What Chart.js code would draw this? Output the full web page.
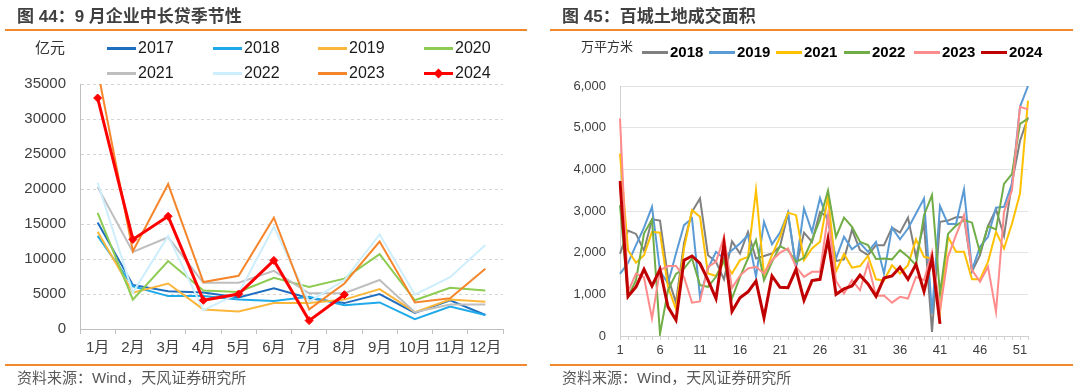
<!DOCTYPE html>
<html><head><meta charset="utf-8">
<script src="https://cdn.jsdelivr.net/npm/chart.js@4.4.1/dist/chart.umd.min.js"></script>
<style>
body{margin:0;width:1080px;height:392px;background:#fff;position:relative;overflow:hidden;font-family:"Liberation Sans","Noto Sans CJK SC",sans-serif;}
canvas{position:absolute;top:0;}
.t{position:absolute;white-space:nowrap;line-height:1;}
.title{font-size:17px;font-weight:bold;color:#404040;}
.rule{position:absolute;height:2px;background:#f0892d;}
.src{font-size:15px;color:#595959;}
.ln{position:absolute;height:3px;}
.dm{position:absolute;width:7px;height:7px;background:#ff0000;transform:rotate(45deg);}
</style></head>
<body>
<canvas id="c1" width="540" height="392" style="left:0"></canvas>
<canvas id="c2" width="540" height="392" style="left:540px"></canvas>
<div id="ov"></div>
<script>
// ---------- Chart 44 data (亿元) ----------
const monthLabels = ['1月','2月','3月','4月','5月','6月','7月','8月','9月','10月','11月','12月'];
const loanYears = ['2017','2018','2019','2020','2021','2022','2023','2024'];
const loans2017 = [15200, 6300, 5400, 5200, 4500, 5800, 4400, 3700, 5000, 2300, 4100, 2000];
const loans2018 = [13300, 6100, 4700, 4700, 4200, 4000, 4600, 3400, 3800, 1400, 3200, 2000];
const loans2019 = [13900, 5200, 6500, 2800, 2500, 3700, 3700, 4200, 5700, 2400, 4200, 3900];
const loans2020 = [16600, 4200, 9700, 5500, 5300, 7300, 6000, 7200, 10700, 4100, 5900, 5500];
const loans2021 = [20300, 11000, 13100, 6600, 6600, 8300, 5100, 5100, 7000, 2400, 3500, 3500];
const loans2022 = [20900, 5200, 13300, 2700, 5100, 14600, 3900, 7000, 13500, 4900, 7400, 12000];
const loans2023 = [37000, 11100, 20700, 6700, 7600, 15900, 2800, 6500, 12500, 3800, 4400, 8600];
const loans2024 = [33000, 12800, 16100, 4100, 5000, 9800, 1200, 4900];
const loanTicks = [0, 5000, 10000, 15000, 20000, 25000, 30000, 35000];

// ---------- Chart 45 data (万平方米) ----------
const weekLabels = ['1','2','3','4','5','6','7','8','9','10','11','12','13','14','15','16','17','18','19','20','21','22','23','24','25','26','27','28','29','30','31','32','33','34','35','36','37','38','39','40','41','42','43','44','45','46','47','48','49','50','51','52'];
const landYears = ['2018','2019','2021','2022','2023','2024'];
const land2018 = [1970, 2530, 2450, 2050, 2800, 2770, 1400, 800, 2230, 2980, 3300, 1940, 1780, 1360, 2270, 1980, 2500, 1860, 1920, 1980, 2150, 2940, 1660, 2480, 2260, 2980, 2840, 1800, 1840, 2550, 2060, 1940, 2180, 2180, 2600, 2480, 2840, 1900, 2700, 100, 2740, 2770, 2850, 2850, 1550, 1940, 2640, 3040, 2400, 3680, 4680, 5250];
const land2019 = [1490, 1750, 2180, 2600, 3100, 1560, 1260, 1980, 2660, 2820, 940, 1620, 2020, 1860, 2060, 2220, 2420, 1420, 2740, 2200, 2480, 2950, 1660, 3060, 2500, 3310, 2740, 1860, 2380, 2080, 2230, 2020, 2260, 1500, 2600, 2320, 2580, 2940, 3300, 540, 3120, 2690, 2690, 3520, 1580, 2140, 2380, 3080, 3100, 3660, 5500, 6000];
const land2021 = [4380, 2060, 1760, 1940, 2500, 2480, 1180, 640, 2100, 3020, 2860, 1500, 1440, 1780, 1500, 1820, 1900, 3500, 1460, 1940, 2380, 2960, 2900, 1820, 2100, 2260, 3340, 1550, 1970, 1640, 1680, 1920, 1360, 1330, 1700, 1500, 1700, 2320, 1900, 1860, 580, 2380, 2020, 2020, 1360, 1360, 1780, 2500, 2100, 2700, 3420, 5650];
const land2022 = [3140, 940, 1340, 2460, 2800, 50, 1100, 1490, 1620, 1860, 1220, 1180, 1420, 1820, 900, 1420, 1860, 2300, 1340, 1780, 2160, 2060, 1780, 1880, 2300, 2800, 3490, 2380, 2840, 2620, 2260, 2180, 1850, 1860, 1840, 2060, 1900, 1700, 2900, 3380, 1010, 2450, 2650, 2780, 2720, 2000, 2640, 2560, 3650, 3890, 5090, 5220];
const land2023 = [5220, 1060, 1500, 1410, 420, 1580, 1680, 1680, 1420, 800, 830, 1660, 1780, 2380, 1150, 1450, 1620, 1660, 1500, 1820, 2000, 2100, 1660, 1420, 1540, 1540, 2900, 1320, 1020, 1340, 1100, 1740, 960, 970, 800, 940, 900, 1420, 1340, 2020, 620, 1900, 2420, 2900, 1580, 1300, 1660, 580, 2980, 3500, 5500, 5440];
const land2024 = [3720, 950, 1180, 1600, 1200, 1600, 700, 380, 1820, 1920, 1740, 1340, 900, 2220, 590, 920, 1060, 1320, 440, 1440, 1170, 1160, 1600, 860, 1330, 1360, 2330, 1000, 1130, 1200, 1460, 1250, 950, 1390, 1440, 1650, 1360, 1720, 1070, 1860, 290];

// ---------- styles ----------
const FONT = '"Liberation Sans","Noto Sans CJK SC",sans-serif';
const loanColors = ['#1f6fc0','#1eaaea','#fbb73c','#8dcb52','#bfbfbf','#cdeefc','#f5862c','#ff0000'];
const loanSeries = [loans2017, loans2018, loans2019, loans2020, loans2021, loans2022, loans2023, loans2024];
const landColors = ['#808080','#5b9bd5','#ffc000','#70ad47','#ff8c8c','#c00000'];
const landSeries = [land2018, land2019, land2021, land2022, land2023, land2024];

// ---------- HTML overlay: titles, rules, legends, sources ----------
const ov = document.getElementById('ov');
function add(html){ ov.insertAdjacentHTML('beforeend', html); }
add('<div class="t title" style="left:17px;top:8px">图 44：9 月企业中长贷季节性</div>');
add('<div class="t title" style="left:562px;top:8px">图 45：百城土地成交面积</div>');
add('<div class="rule" style="left:5px;top:29px;width:522px"></div>');
add('<div class="rule" style="left:550px;top:29px;width:523px"></div>');
add('<div class="rule" style="left:5px;top:364px;width:522px"></div>');
add('<div class="rule" style="left:550px;top:364px;width:523px"></div>');
add('<div class="t src" style="left:17px;top:370px">资料来源：Wind，天风证券研究所</div>');
add('<div class="t src" style="left:562px;top:370px">资料来源：Wind，天风证券研究所</div>');
add('<div class="t" style="left:35px;top:40px;font-size:15px;color:#333">亿元</div>');
add('<div class="t" style="left:581px;top:40px;font-size:13px;color:#333">万平方米</div>');
const lgCols = [107, 213, 318, 424];
loanYears.forEach((y, i) => {
  const cx = lgCols[i % 4], cy = i < 4 ? 48 : 73;
  add(`<div class="ln" style="left:${cx}px;top:${cy-1}px;width:29px;background:${loanColors[i]}"></div>`);
  if (y === '2024') add(`<div class="dm" style="left:${cx+11}px;top:${cy-3}px"></div>`);
  add(`<div class="t" style="left:${cx+31}px;top:${cy-8}px;font-size:16px;color:#1a1a1a">${y}</div>`);
});
const lg2 = [642, 709, 776, 844, 914, 981];
landYears.forEach((y, i) => {
  const cx = lg2[i], cy = 52;
  add(`<div class="ln" style="left:${cx}px;top:${cy-1}px;width:26px;background:${landColors[i]}"></div>`);
  add(`<div class="t" style="left:${cx+28}px;top:${cy-8}px;font-size:15px;font-weight:bold;color:#000">${y}</div>`);
});

// ---------- Chart 44 ----------
new Chart(document.getElementById('c1'), {
  type: 'line',
  data: {
    labels: monthLabels,
    datasets: loanSeries.map((d, i) => ({
      label: loanYears[i], data: d,
      borderColor: loanColors[i], backgroundColor: loanColors[i],
      borderWidth: loanYears[i] === '2024' ? 3 : 2,
      pointRadius: loanYears[i] === '2024' ? 4 : 0,
      pointStyle: 'rectRot', pointBorderWidth: 1,
      order: loanSeries.length - i, tension: 0
    }))
  },
  options: {
    responsive: false, animation: false, devicePixelRatio: 1,
    layout: { autoPadding: false, padding: { top: 84, left: 0, right: 37, bottom: 33 } },
    plugins: { legend: { display: false }, tooltip: { enabled: false } },
    scales: {
      x: {
        offset: true,
        grid: { offset: true, drawOnChartArea: false, drawTicks: true, tickLength: 5, color: '#bfbfbf' },
        border: { color: '#bfbfbf' },
        ticks: { color: '#404040', font: { size: 15, family: FONT }, padding: 5, maxRotation: 0, autoSkip: false },
        afterFit: s => { s.height = 30; }
      },
      y: {
        min: 0, max: 35000,
        afterBuildTicks: s => { s.ticks = loanTicks.map(v => ({ value: v })); },
        grid: { color: '#d4d4d4', drawTicks: false },
        border: { color: '#bfbfbf', dash: [3, 3] },
        ticks: { color: '#404040', font: { size: 15, family: FONT }, padding: 14, callback: v => String(v) },
        afterFit: s => { s.width = 80; }
      }
    }
  }
});

// ---------- Chart 45 ----------
new Chart(document.getElementById('c2'), {
  type: 'line',
  data: {
    labels: weekLabels,
    datasets: landSeries.map((d, i) => ({
      label: landYears[i], data: d,
      borderColor: landColors[i], backgroundColor: landColors[i],
      borderWidth: landYears[i] === '2024' ? 3 : 2,
      pointRadius: 0, order: landSeries.length - i, tension: 0
    }))
  },
  options: {
    responsive: false, animation: false, devicePixelRatio: 1,
    layout: { autoPadding: false, padding: { top: 86, left: 0, right: 52, bottom: 32 } },
    plugins: { legend: { display: false }, tooltip: { enabled: false } },
    scales: {
      x: {
        offset: false,
        grid: { drawOnChartArea: false, drawTicks: true, tickLength: 4, color: '#d0d0d0' },
        border: { color: '#d0d0d0' },
        ticks: {
          color: '#404040', font: { size: 13, family: FONT }, padding: 3, maxRotation: 0, autoSkip: false,
          callback: function (v, i) { return i % 5 === 0 ? this.getLabelForValue(v) : ''; }
        },
        afterFit: s => { s.height = 24; }
      },
      y: {
        min: 0, max: 6000,
        ticks: { stepSize: 1000, color: '#404040', font: { size: 13, family: FONT }, padding: 14,
          callback: v => v.toLocaleString('en-US') },
        grid: { color: '#e3e3e3', drawTicks: false },
        border: { color: '#d0d0d0' },
        afterFit: s => { s.width = 80; }
      }
    }
  }
});
</script>
</body></html>
